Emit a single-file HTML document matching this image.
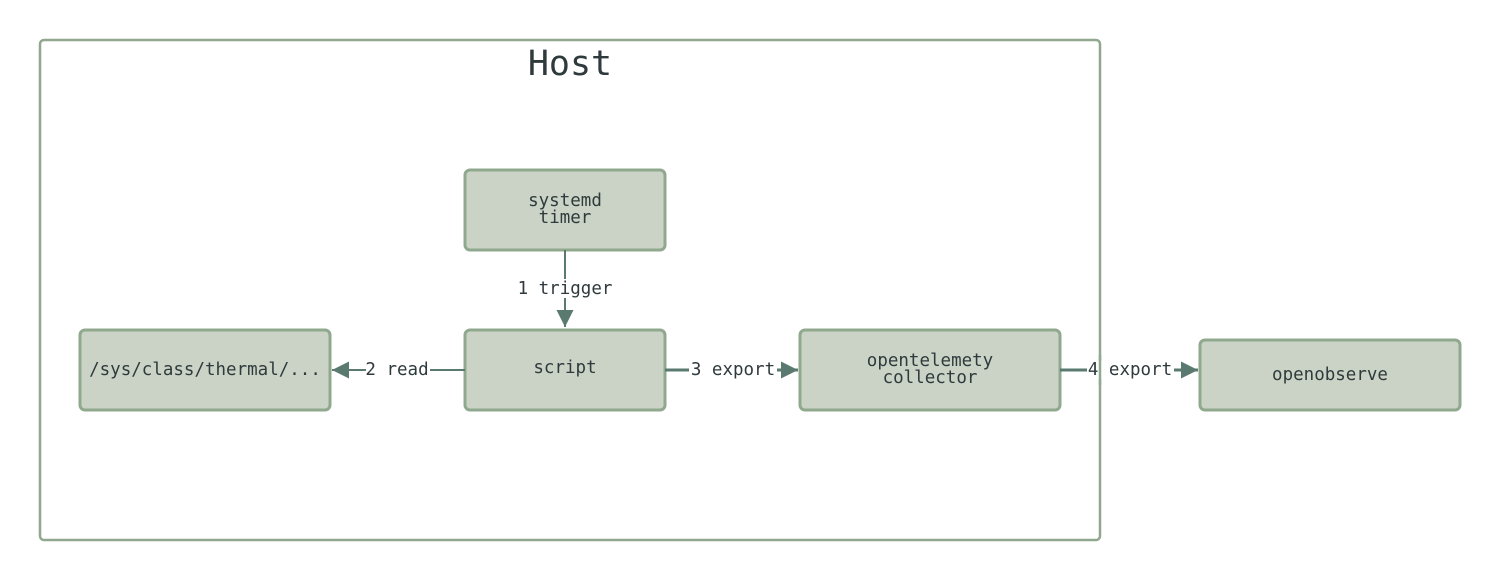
<!DOCTYPE html>
<html><head><meta charset="utf-8"><style>
html,body{margin:0;padding:0;background:#fff;width:1500px;height:580px;overflow:hidden}
svg text{font-family:"DejaVu Sans Mono","Liberation Mono",monospace;fill:#2f3a3c}
</style></head><body>
<svg width="1500" height="580" viewBox="0 0 1500 580" xmlns="http://www.w3.org/2000/svg">
<defs>
<marker id="a" viewBox="0 0 10 10" refX="10" refY="5" markerWidth="17" markerHeight="17" markerUnits="userSpaceOnUse" orient="auto"><path d="M0,0L10,5L0,10z" fill="#5a7a70"/></marker>
</defs>
<rect x="40" y="40" width="1060" height="500" rx="4" fill="#fff" stroke="#8fa88e" stroke-width="2.5"/>
<text x="570" y="75" font-size="35" text-anchor="middle">Host</text>
<g fill="#cbd3c6" stroke="#8fa88e" stroke-width="3">
<rect x="465" y="170" width="200" height="80" rx="5"/>
<rect x="465" y="330" width="200" height="80" rx="5"/>
<rect x="80" y="330" width="250" height="80" rx="5"/>
<rect x="800" y="330" width="260" height="80" rx="5"/>
<rect x="1200" y="340" width="260" height="70" rx="5"/>
</g>
<g stroke="#5a7a70" fill="none">
<line x1="565" y1="250" x2="565" y2="327" stroke-width="2" marker-end="url(#a)"/>
<line x1="465" y1="370" x2="332" y2="370" stroke-width="2" marker-end="url(#a)"/>
<line x1="665" y1="370" x2="798" y2="370" stroke-width="3" marker-end="url(#a)"/>
<line x1="1060" y1="370" x2="1198" y2="370" stroke-width="3" marker-end="url(#a)"/>
</g>
<g fill="#fff">
<rect x="515" y="279" width="100" height="19"/>
<rect x="366" y="361" width="64" height="18"/>
<rect x="689" y="361" width="88" height="18"/>
<rect x="1087" y="361" width="87" height="18"/>
</g>
<line x1="1100" y1="355" x2="1100" y2="385" stroke="#8fa88e" stroke-width="2.5"/>
<g font-size="17.5" text-anchor="middle">
<text x="565" y="206">systemd</text>
<text x="565" y="223">timer</text>
<text x="565" y="373">script</text>
<text x="205" y="375">/sys/class/thermal/...</text>
<text x="930" y="366">opentelemety</text>
<text x="930" y="383">collector</text>
<text x="1330" y="380">openobserve</text>
<text x="565" y="294">1 trigger</text>
<text x="397" y="375">2 read</text>
<text x="733" y="375">3 export</text>
<text x="1130" y="375">4 export</text>
</g>
</svg>
</body></html>
